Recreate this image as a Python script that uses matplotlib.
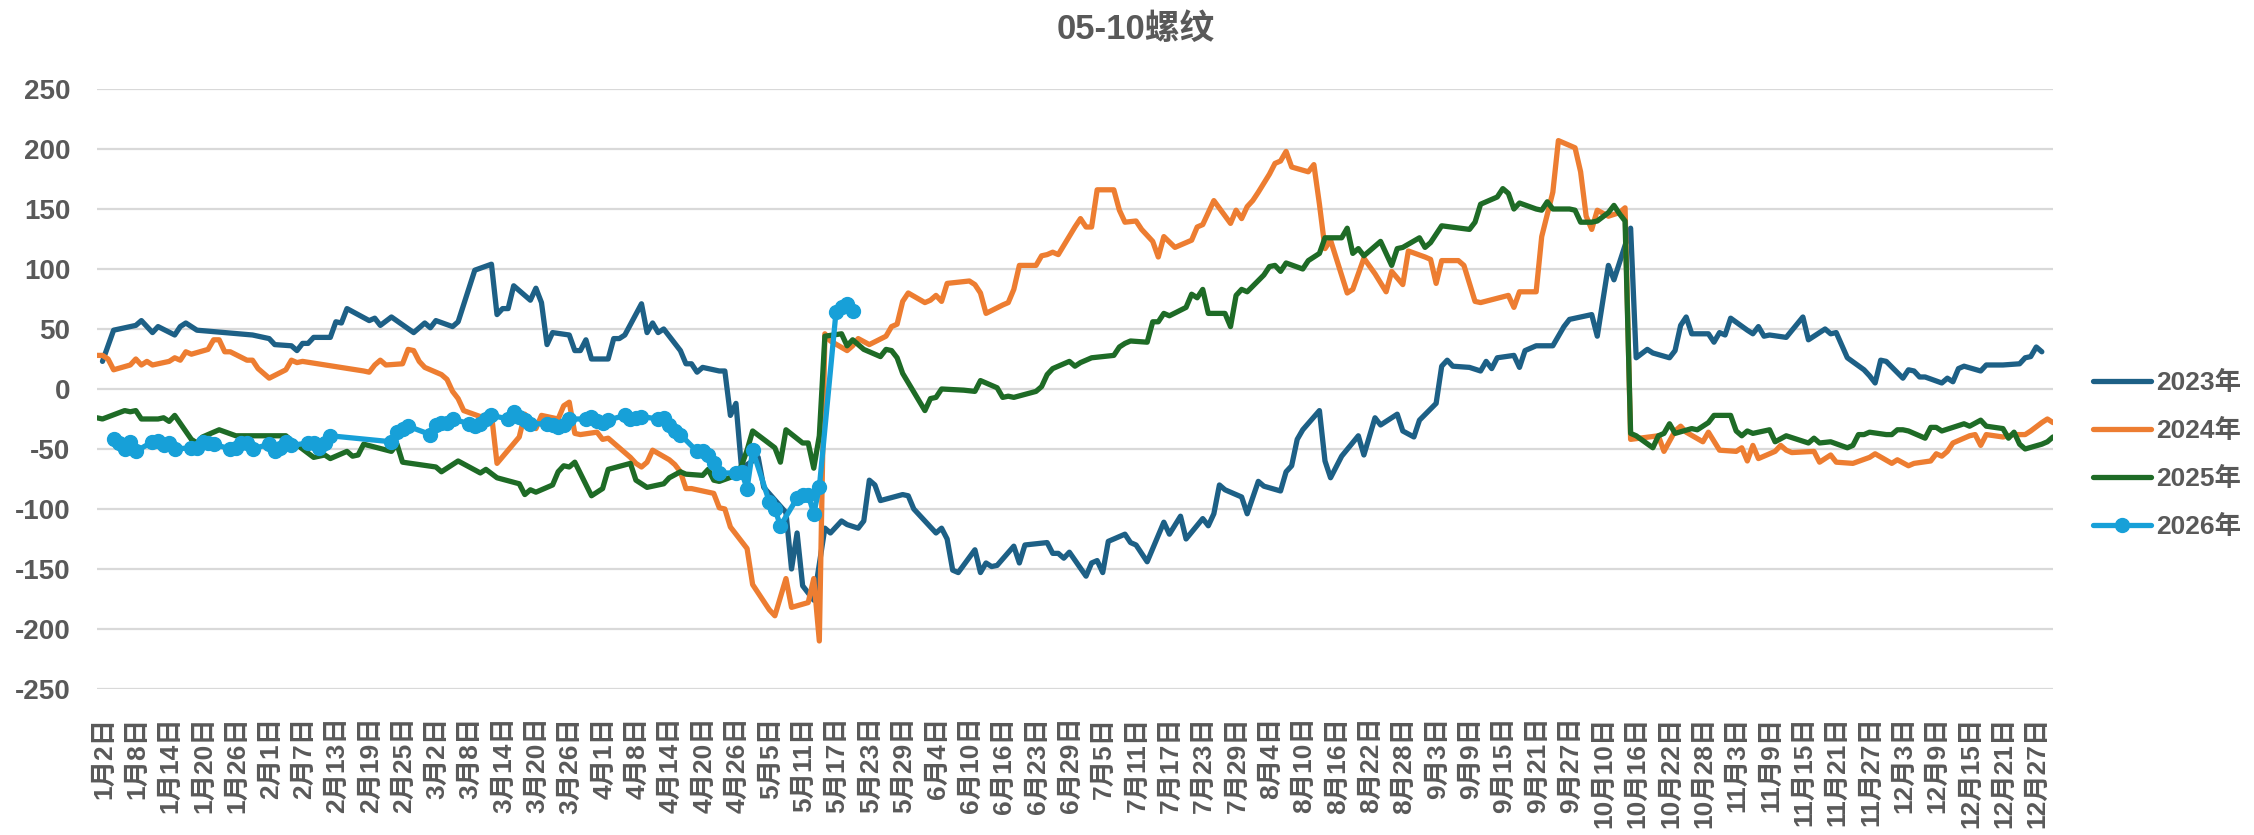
import pandas as pd
import matplotlib
matplotlib.use("Agg")
import matplotlib.pyplot as plt
from matplotlib.transforms import ScaledTranslation

plt.rcParams['font.family'] = ['Liberation Sans', 'Noto Sans CJK SC']
plt.rcParams['axes.unicode_minus'] = False

# x categories: every month/day that any year traded on (Feb 29 kept, common holidays dropped)
closed = "4/5 5/1 5/2 5/3 6/22 10/1 10/2 10/3 10/4 10/5 10/6 10/7".split()
days = pd.date_range("2024-01-02", "2024-12-31")
cats = [f"{d.month}/{d.day}" for d in days if f"{d.month}/{d.day}" not in closed]
pos = {c: i for i, c in enumerate(cats)}
cat_labels = [f"{c.split('/')[0]}月{c.split('/')[1]}日" for c in cats]

years = ["2023年", "2024年", "2025年", "2026年"]
colors = ["#1D6086", "#ED7D31", "#1E6B26", "#17A0D8"]

d23 = """1/3 1/5 1/9 1/10 1/12 1/13 1/16 1/17 1/18 1/19 1/20 1/30 1/31 2/2 2/3 2/6 2/7 2/8 2/9 2/10
2/13 2/14 2/15 2/16 2/20 2/21 2/22 2/24 2/28 3/1 3/2 3/3 3/6 3/7 3/10 3/13 3/14 3/15 3/16 3/17
3/20 3/21 3/22 3/23 3/24 3/27 3/28 3/29 3/30 3/31 4/3 4/4 4/6 4/7 4/10 4/11 4/12 4/13 4/14 4/17
4/18 4/19 4/20 4/21 4/24 4/25 4/26 4/27 4/28 5/4 5/5 5/9 5/10 5/11 5/12 5/13 5/14 5/16 5/17 5/19
5/20 5/22 5/23 5/24 5/25 5/26 5/30 5/31 6/1 6/5 6/6 6/7 6/8 6/9 6/12 6/13 6/14 6/15 6/16 6/19
6/20 6/21 6/26 6/27 6/28 6/29 6/30 7/3 7/4 7/5 7/6 7/7 7/10 7/11 7/12 7/14 7/17 7/18 7/20 7/21
7/24 7/25 7/26 7/27 7/28 7/31 8/1 8/3 8/4 8/7 8/8 8/9 8/10 8/11 8/14 8/15 8/16 8/18 8/21 8/22
8/24 8/25 8/28 8/29 8/31 9/1 9/4 9/5 9/6 9/7 9/10 9/12 9/13 9/14 9/15 9/18 9/19 9/20 9/22 9/25
9/27 9/28 10/9 10/10 10/12 10/13 10/16 10/17 10/19 10/20 10/23 10/24 10/25 10/26 10/27 10/30 10/31 11/1 11/2 11/3
11/6 11/7 11/8 11/9 11/10 11/13 11/16 11/17 11/20 11/21 11/22 11/24 11/27 11/28 11/29 11/30 12/1 12/4 12/5 12/6
12/7 12/8 12/11 12/12 12/13 12/14 12/15 12/18 12/19 12/21 12/22 12/25 12/26 12/27 12/28 12/29""".split()
v23 = [23, 49, 53, 57, 47, 52, 45, 52, 55, 52, 49, 45, 44, 42, 37, 36, 32, 38, 38, 43,
       43, 56, 55, 67, 57, 59, 53, 60, 47, 55, 51, 57, 52, 56, 99, 104, 62, 67, 67, 86,
       74, 84, 72, 37, 47, 45, 32, 32, 41, 25, 25, 42, 42, 45, 71, 47, 55, 47, 50, 32,
       21, 21, 14, 18, 15, 15, -22, -12, -66, -57, -82, -103, -150, -120, -164, -170, -176, -116, -120, -110,
       -113, -116, -110, -76, -80, -93, -88, -89, -100, -120, -116, -125, -151, -153, -134, -153, -145, -148, -147, -131,
       -145, -130, -128, -137, -137, -141, -136, -156, -145, -143, -153, -127, -121, -128, -130, -144, -111, -121, -106, -125,
       -108, -114, -104, -80, -84, -90, -104, -77, -81, -85, -69, -64, -42, -34, -18, -60, -74, -56, -39, -55,
       -24, -30, -21, -35, -40, -26, -12, 19, 24, 19, 18, 15, 23, 17, 26, 28, 18, 32, 36, 36,
       52, 58, 62, 44, 103, 91, 134, 26, 33, 30, 26, 32, 53, 60, 46, 46, 39, 47, 45, 59,
       49, 46, 52, 44, 45, 43, 60, 41, 50, 46, 47, 26, 16, 11, 5, 24, 23, 9, 16, 15,
       10, 10, 5, 9, 6, 17, 19, 15, 20, 20, 20, 21, 26, 27, 35, 31]

d24 = """1/2 1/3 1/4 1/5 1/8 1/9 1/10 1/11 1/12 1/15 1/16 1/17 1/18 1/19 1/22 1/23 1/24 1/25 1/26 1/29
1/30 1/31 2/1 2/2 2/5 2/6 2/7 2/8 2/19 2/20 2/21 2/22 2/23 2/26 2/27 2/28 2/29 3/1 3/4 3/5
3/6 3/7 3/8 3/11 3/13 3/14 3/18 3/19 3/21 3/22 3/25 3/26 3/27 3/28 3/29 4/1 4/2 4/3 4/8 4/9
4/10 4/11 4/12 4/15 4/16 4/17 4/18 4/19 4/22 4/23 4/24 4/25 4/26 4/29 4/30 5/6 5/7 5/9 5/10 5/13
5/14 5/15 5/16 5/17 5/20 5/21 5/22 5/24 5/27 5/28 5/29 5/30 5/31 6/3 6/4 6/5 6/6 6/7 6/11 6/12
6/13 6/14 6/17 6/18 6/19 6/20 6/24 6/25 6/26 6/27 6/28 7/1 7/2 7/3 7/4 7/5 7/8 7/9 7/10 7/12
7/13 7/15 7/16 7/17 7/19 7/22 7/23 7/24 7/26 7/29 7/30 7/31 8/1 8/2 8/3 8/5 8/6 8/7 8/8 8/9
8/12 8/13 8/14 8/15 8/16 8/19 8/20 8/22 8/24 8/26 8/27 8/29 8/30 9/2 9/3 9/4 9/5 9/8 9/9 9/11
9/12 9/17 9/18 9/19 9/22 9/23 9/25 9/26 9/29 9/30 10/8 10/9 10/10 10/12 10/14 10/15 10/16 10/21 10/22 10/24
10/25 10/26 10/29 10/30 11/1 11/4 11/5 11/6 11/7 11/8 11/11 11/12 11/13 11/14 11/18 11/19 11/21 11/22 11/25 11/28
11/29 12/2 12/3 12/5 12/6 12/9 12/10 12/11 12/12 12/13 12/16 12/17 12/18 12/19 12/22 12/24 12/26 12/27 12/29 12/30
12/31""".split()
v24 = [28, 28, 25, 16, 20, 25, 20, 23, 20, 23, 26, 24, 31, 29, 33, 41, 41, 31, 31, 24,
       24, 17, 13, 9, 16, 24, 22, 23, 15, 14, 20, 24, 20, 21, 33, 32, 23, 18, 12, 8,
       -2, -8, -18, -23, -21, -62, -40, -21, -33, -22, -25, -14, -11, -37, -38, -36, -42, -41, -57, -62,
       -65, -61, -51, -59, -63, -69, -83, -83, -86, -87, -99, -100, -115, -133, -163, -184, -189, -158, -182, -178,
       -158, -210, 46, 40, 32, 36, 42, 37, 44, 52, 54, 73, 80, 72, 74, 78, 73, 88, 90, 87,
       80, 63, 70, 72, 83, 103, 103, 111, 112, 114, 112, 135, 142, 135, 135, 166, 166, 149, 139, 140,
       133, 123, 110, 127, 118, 124, 135, 137, 157, 138, 149, 142, 152, 157, 164, 179, 188, 190, 198, 185,
       181, 187, 154, 117, 124, 80, 83, 109, 96, 81, 98, 87, 115, 110, 108, 88, 107, 107, 103, 73,
       72, 78, 68, 81, 81, 127, 164, 207, 201, 181, 144, 133, 149, 144, 147, 151, -42, -39, -52, -35,
       -31, -36, -44, -36, -51, -52, -49, -60, -47, -58, -52, -47, -51, -53, -52, -61, -55, -61, -62, -57,
       -54, -62, -59, -64, -62, -60, -54, -56, -52, -45, -39, -38, -47, -38, -40, -38, -38, -35, -28, -25,
       -28]

d25 = """1/2 1/3 1/7 1/8 1/9 1/10 1/13 1/14 1/15 1/16 1/19 1/20 1/21 1/24 1/27 2/5 2/6 2/10 2/12 2/13
2/16 2/17 2/18 2/19 2/24 2/25 2/26 3/3 3/4 3/5 3/7 3/9 3/11 3/12 3/14 3/18 3/19 3/20 3/21 3/24
3/25 3/26 3/27 3/28 3/31 4/2 4/3 4/8 4/9 4/11 4/14 4/15 4/17 4/18 4/21 4/22 4/23 4/24 4/27 4/28
4/29 4/30 5/7 5/8 5/9 5/12 5/13 5/14 5/15 5/16 5/19 5/20 5/21 5/23 5/26 5/27 5/28 5/29 5/30 6/3
6/4 6/5 6/6 6/10 6/12 6/13 6/16 6/17 6/18 6/19 6/24 6/25 6/26 6/27 6/30 7/1 7/2 7/3 7/4 7/8
7/9 7/10 7/11 7/14 7/15 7/16 7/17 7/18 7/21 7/22 7/23 7/24 7/25 7/28 7/29 7/30 7/31 8/1 8/4 8/5
8/6 8/7 8/8 8/11 8/12 8/13 8/14 8/15 8/18 8/19 8/20 8/21 8/22 8/25 8/27 8/28 8/29 9/1 9/2 9/3
9/5 9/10 9/11 9/12 9/15 9/16 9/17 9/18 9/19 9/22 9/23 9/24 9/25 9/28 9/29 9/30 10/9 10/10 10/12 10/13
10/14 10/15 10/16 10/17 10/20 10/21 10/22 10/23 10/24 10/27 10/28 10/30 10/31 11/3 11/4 11/5 11/6 11/7 11/10 11/11
11/13 11/17 11/18 11/19 11/21 11/24 11/25 11/26 11/27 11/28 12/1 12/2 12/3 12/4 12/5 12/8 12/9 12/10 12/11 12/15
12/16 12/18 12/19 12/22 12/23 12/24 12/25 12/26 12/29 12/30 12/31""".split()
v25 = [-24, -25, -18, -19, -18, -25, -25, -24, -27, -22, -42, -45, -40, -34, -39, -39, -43, -57, -55, -58,
       -52, -56, -55, -46, -52, -46, -61, -65, -69, -66, -60, -65, -70, -67, -74, -79, -88, -84, -86, -80,
       -69, -64, -65, -61, -89, -83, -67, -62, -76, -82, -79, -74, -69, -71, -72, -67, -76, -77, -72, -64,
       -51, -35, -49, -61, -34, -45, -45, -66, -39, 44, 46, 36, 41, 33, 27, 33, 32, 26, 13, -18,
       -8, -7, 0, -1, -2, 7, 1, -7, -6, -7, -2, 2, 12, 17, 23, 19, 22, 24, 26, 28,
       35, 38, 40, 39, 56, 56, 63, 61, 68, 79, 76, 83, 63, 63, 52, 78, 83, 81, 95, 102,
       103, 98, 105, 100, 107, 110, 113, 126, 126, 134, 113, 117, 111, 123, 103, 117, 118, 126, 118, 122,
       136, 133, 139, 154, 160, 167, 163, 150, 155, 150, 149, 156, 150, 150, 149, 139, 139, 140, 147, 153,
       146, 140, -37, -39, -49, -39, -37, -29, -37, -33, -34, -28, -22, -22, -35, -39, -35, -37, -34, -44,
       -39, -45, -41, -45, -44, -49, -47, -38, -38, -36, -38, -38, -34, -34, -35, -41, -32, -32, -35, -29,
       -31, -26, -31, -33, -41, -36, -46, -50, -46, -44, -40]

d26 = """1/5 1/6 1/7 1/8 1/9 1/12 1/13 1/14 1/15 1/16 1/19 1/20 1/21 1/22 1/23 1/26 1/27 1/28 1/29 1/30
2/2 2/3 2/4 2/5 2/6 2/9 2/10 2/11 2/12 2/13 2/24 2/25 2/26 2/27 3/2 3/3 3/4 3/5 3/6 3/9
3/10 3/11 3/12 3/13 3/16 3/17 3/18 3/19 3/20 3/23 3/24 3/25 3/26 3/27 3/30 3/31 4/1 4/2 4/3 4/7
4/8 4/9 4/10 4/13 4/14 4/15 4/16 4/17 4/20 4/21 4/22 4/23 4/24 4/27 4/28 4/29 4/30 5/6 5/7 5/8
5/11 5/12 5/13 5/14 5/15 5/18 5/19 5/20 5/21""".split()
v26 = [-42, -45, -50, -44, -52, -44, -43, -47, -45, -50, -49, -49, -44, -45, -46, -50, -49, -45, -45, -50,
       -46, -52, -49, -44, -47, -45, -45, -49, -45, -39, -44, -36, -33, -31, -38, -30, -28, -28, -25, -29,
       -31, -29, -25, -22, -25, -19, -23, -26, -29, -29, -30, -32, -30, -25, -25, -23, -27, -28, -26, -22,
       -25, -24, -23, -25, -24, -30, -35, -38, -52, -52, -55, -62, -70, -70, -69, -83, -51, -94, -100, -114,
       -91, -88, -88, -104, -82, 64, 68, 71, 65]

series = [(d23, v23), (d24, v24), (d25, v25), (d26, v26)]

fig = plt.figure(figsize=(22.54, 8.35), dpi=100)
ax = fig.add_axes([0.0430, 0.1749, 0.8678, 0.7185])

for i, ((dates, vals), name, col) in enumerate(zip(series, years, colors)):
    x = [pos[d] for d in dates]
    marker = 'o' if i == 3 else None
    ax.plot(x, vals, color=col, lw=3.8, label=name, marker=marker, markersize=10,
            solid_joinstyle='round', solid_capstyle='round', zorder=2 + i)

ax.set_xlim(0, len(cats) - 1)
ax.set_ylim(-250, 250)
ax.set_yticks(range(-250, 251, 50))
ticks = list(range(0, len(cats), 6))
ax.set_xticks(ticks)
ax.set_xticklabels([cat_labels[t] for t in ticks], rotation=90, va='top', ha='center')

ax.yaxis.grid(True, color='#D9D9D9', lw=1.6)
ax.set_axisbelow(True)
for s in ax.spines.values():
    s.set_visible(False)
ax.tick_params(axis='both', length=0, labelcolor='#595959')
ax.tick_params(axis='y', labelsize=20, pad=19)
ax.tick_params(axis='x', labelsize=19, pad=20)
for lab in ax.get_xticklabels() + ax.get_yticklabels():
    lab.set_fontweight('bold')
shift = ScaledTranslation(7 / 100, 0, fig.dpi_scale_trans)
for lab in ax.get_xticklabels():
    lab.set_transform(lab.get_transform() + shift)

fig.text(0.504, 1 - 29 / 835, "05-10螺纹", ha='center', va='center', fontsize=25,
         fontweight='bold', color='#595959')

leg = ax.legend(loc='center left', bbox_to_anchor=(2093 / 2254, 1 - 455 / 835),
                bbox_transform=fig.transFigure, frameon=False, fontsize=19,
                handlelength=2.2, handletextpad=0.2, labelspacing=0.9,
                borderpad=0, borderaxespad=0)
for t in leg.get_texts():
    t.set_color('#595959')
    t.set_fontweight('bold')

fig.savefig("out.png", dpi=100)
